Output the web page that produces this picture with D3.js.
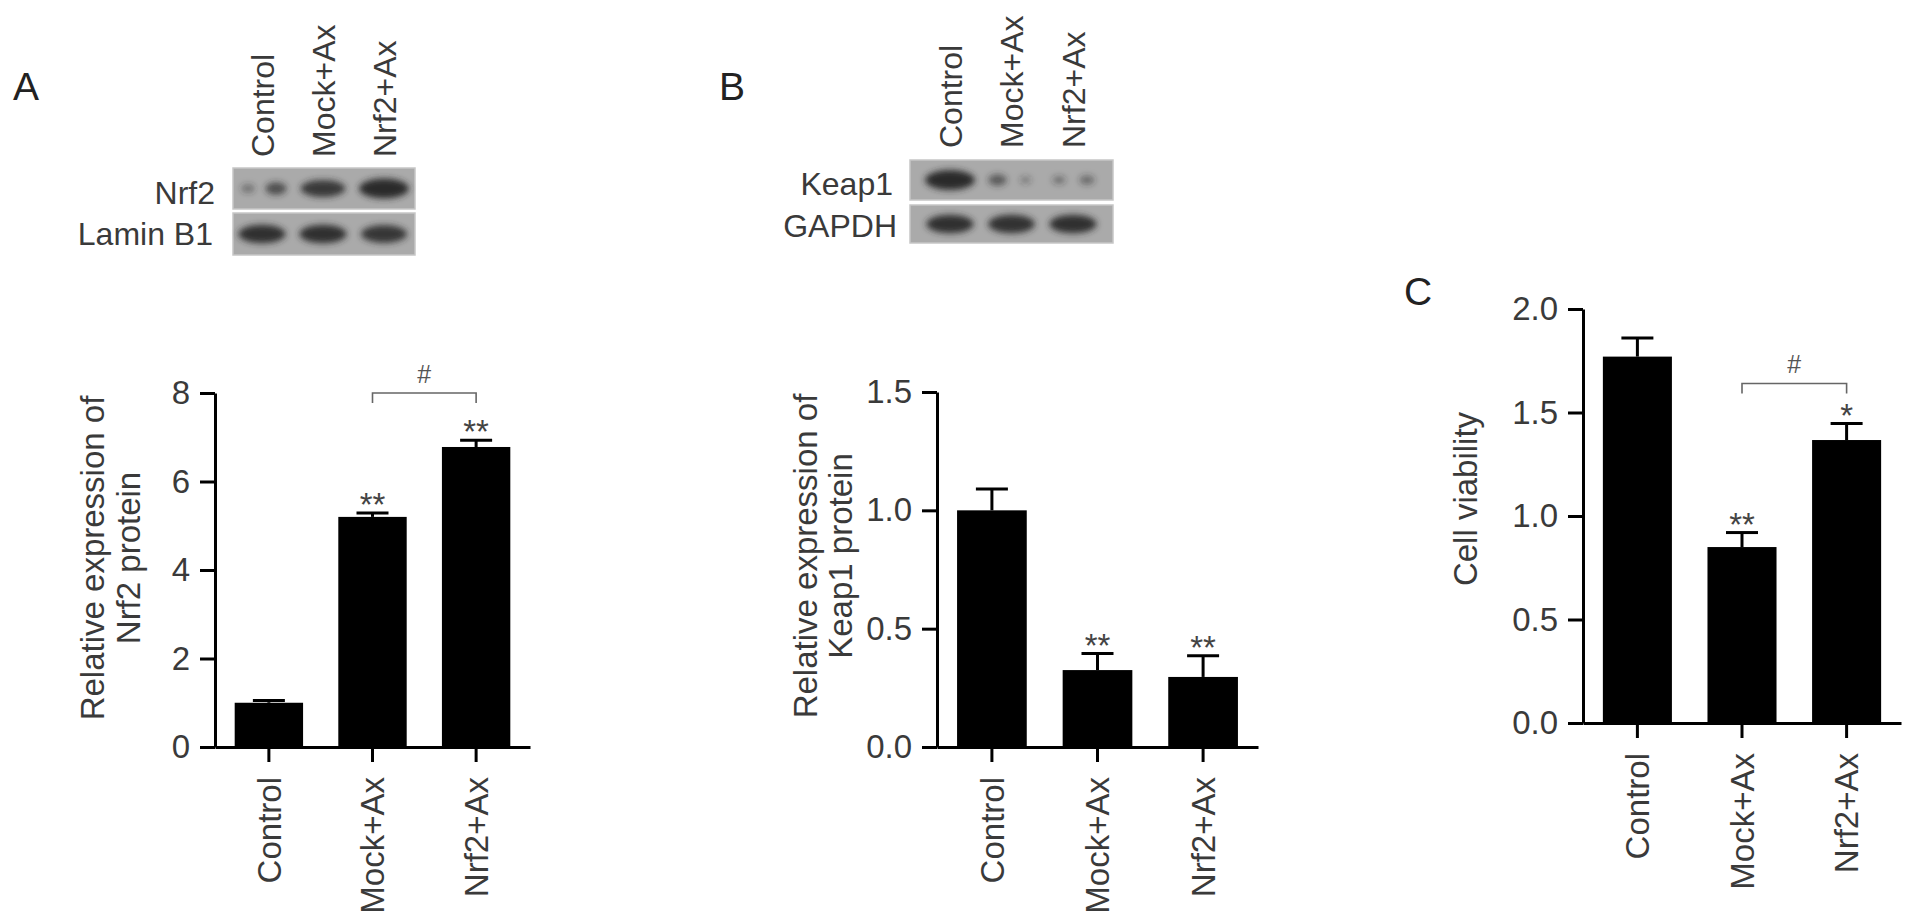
<!DOCTYPE html>
<html><head><meta charset="utf-8">
<script src="https://cdn.jsdelivr.net/npm/d3@7"></script>
<style>
body{margin:0;background:#fff;}
text{font-family:"Liberation Sans",Arial,Helvetica,sans-serif;}
</style>
</head><body>
<svg id="c" width="1913" height="924"></svg>
<script>
// ---------------- DATA ----------------
const categories = ["Control", "Mock+Ax", "Nrf2+Ax"];

const nrf2Values = [1.0, 5.2, 6.78];
const nrf2Errors = [0.05, 0.09, 0.15];
const nrf2Ticks = [0, 2, 4, 6, 8];
const nrf2Stars = ["", "**", "**"];
const nrf2Bracket = {from: "Mock+Ax", to: "Nrf2+Ax", level: 8.0, label: "#"};

const keap1Values = [1.0, 0.325, 0.296];
const keap1Errors = [0.09, 0.07, 0.09];
const keap1Ticks = [0, 0.5, 1.0, 1.5];
const keap1Stars = ["", "**", "**"];

const viabilityValues = [1.77, 0.85, 1.367];
const viabilityErrors = [0.09, 0.07, 0.08];
const viabilityTicks = [0, 0.5, 1.0, 1.5, 2.0];
const viabilityStars = ["", "**", "*"];
const viabilityBracket = {from: "Mock+Ax", to: "Nrf2+Ax", level: 1.64, label: "#"};

// western blot band intensities: two sub-bands per lane
const nrf2Blot  = [[0.25, 0.55], [0.8, 0.8], [1.0, 1.0]];
const laminBlot = [[0.9, 0.9], [0.9, 0.9], [0.85, 0.85]];
const keap1Blot = [[1.0, 1.0], [0.45, 0.15], [0.22, 0.3]];
const gapdhBlot = [[0.9, 0.9], [0.88, 0.88], [0.9, 0.9]];

// ---------------- DRAWING ----------------
const svg = d3.select("#c");
svg.append("rect").attr("width", 1913).attr("height", 924).attr("fill", "#fff");
const defs = svg.append("defs");
defs.append("filter").attr("id", "blur").attr("x", "-50%").attr("y", "-50%").attr("width", "200%").attr("height", "200%")
  .append("feGaussianBlur").attr("stdDeviation", 3);

const TXT = "#3a3a3a";

function barPanel(cfg) {
  const g = svg.append("g");
  const x = d3.scaleBand().domain(categories).range(cfg.xRange).paddingInner(0.34).paddingOuter(0.19);
  const y = d3.scaleLinear().domain(cfg.domain).range(cfg.yRange);
  const x0 = cfg.xRange[0];

  g.selectAll("rect.bar").data(cfg.values).join("rect")
    .attr("x", (d, i) => x(categories[i]))
    .attr("width", x.bandwidth())
    .attr("y", d => y(d))
    .attr("height", d => y(0) - y(d))
    .attr("fill", "#000");

  cfg.values.forEach((v, i) => {
    const cx = x(categories[i]) + x.bandwidth() / 2;
    const top = y(v + cfg.errors[i]);
    g.append("line").attr("x1", cx).attr("x2", cx).attr("y1", y(v)).attr("y2", top)
      .attr("stroke", "#000").attr("stroke-width", 3);
    g.append("line").attr("x1", cx - 16).attr("x2", cx + 16).attr("y1", top).attr("y2", top)
      .attr("stroke", "#000").attr("stroke-width", 3);
    if (cfg.stars[i]) {
      g.append("text").attr("x", cx).attr("y", top - 16).attr("dy", "0.58em")
        .attr("text-anchor", "middle").attr("font-size", 33).attr("fill", "#444")
        .text(cfg.stars[i]);
    }
  });

  const yAxis = d3.axisLeft(y).tickValues(cfg.ticks).tickSize(15).tickSizeOuter(0)
    .tickPadding(10).tickFormat(cfg.fmt);
  const ya = g.append("g").attr("transform", `translate(${x0},0)`).call(yAxis);
  ya.select(".domain").attr("stroke", "#000").attr("stroke-width", 3);
  ya.selectAll(".tick line").attr("stroke", "#000").attr("stroke-width", 3);
  ya.selectAll(".tick text").attr("font-size", 33).attr("fill", TXT)
    .attr("font-family", '"Liberation Sans",Arial,sans-serif');

  const xAxis = d3.axisBottom(x).tickSize(15).tickSizeOuter(0).tickFormat("");
  const xa = g.append("g").attr("transform", `translate(0,${y(0)})`).call(xAxis);
  xa.select(".domain").attr("stroke", "#000").attr("stroke-width", 3);
  xa.selectAll(".tick line").attr("stroke", "#000").attr("stroke-width", 3);

  categories.forEach(c => {
    const cx = x(c) + x.bandwidth() / 2;
    g.append("text")
      .attr("transform", `translate(${cx},${y(0) + 30}) rotate(-90)`)
      .attr("dy", "0.36em").attr("text-anchor", "end")
      .attr("font-size", 33).attr("fill", TXT).text(c);
  });

  cfg.title.forEach((t, k) => {
    g.append("text")
      .attr("transform", `translate(${cfg.titleX[k]},${cfg.titleY}) rotate(-90)`)
      .attr("dy", "0.36em").attr("text-anchor", "middle")
      .attr("font-size", 33).attr("fill", TXT).text(t);
  });

  if (cfg.bracket) {
    const b = cfg.bracket;
    const xa1 = x(b.from) + x.bandwidth() / 2;
    const xa2 = x(b.to) + x.bandwidth() / 2;
    const by = y(b.level);
    g.append("path").attr("d", `M${xa1},${by + 10}V${by}H${xa2}V${by + 10}`)
      .attr("fill", "none").attr("stroke", "#666").attr("stroke-width", 1.6);
    g.append("text").attr("x", (xa1 + xa2) / 2).attr("y", by - 19).attr("dy", "0.35em")
      .attr("text-anchor", "middle").attr("font-size", 25).attr("fill", "#555").text(b.label);
  }
}

barPanel({
  values: nrf2Values, errors: nrf2Errors, ticks: nrf2Ticks, stars: nrf2Stars,
  domain: [0, 8], xRange: [215, 530], yRange: [747, 393], fmt: d3.format("d"),
  title: ["Relative expression of", "Nrf2 protein"], titleX: [92, 128], titleY: 558,
  bracket: nrf2Bracket
});
barPanel({
  values: keap1Values, errors: keap1Errors, ticks: keap1Ticks, stars: keap1Stars,
  domain: [0, 1.5], xRange: [937, 1258], yRange: [747, 392], fmt: d3.format(".1f"),
  title: ["Relative expression of", "Keap1 protein"], titleX: [805, 840], titleY: 556
});
barPanel({
  values: viabilityValues, errors: viabilityErrors, ticks: viabilityTicks, stars: viabilityStars,
  domain: [0, 2], xRange: [1583, 1901], yRange: [723, 309], fmt: d3.format(".1f"),
  title: ["Cell viability"], titleX: [1465], titleY: 499,
  bracket: viabilityBracket
});

// ---------------- BLOTS ----------------
function blot(cfg) {
  const g = svg.append("g");
  const lane = d3.scalePoint().domain(categories).range(cfg.laneRange);
  cfg.rows.forEach((row, r) => {
    g.append("rect").attr("x", cfg.x).attr("y", row.y).attr("width", cfg.w).attr("height", row.h)
      .attr("fill", "#aaaaaa").attr("stroke", "#c6c6c6").attr("stroke-width", 1.5);
    const cy = row.y + row.h / 2;
    const bands = g.append("g").attr("filter", "url(#blur)");
    row.data.forEach((pair, i) => {
      const same = Math.abs(pair[0] - pair[1]) < 0.05;
      if (same) {
        const t = pair[0];
        bands.append("ellipse")
          .attr("cx", lane(categories[i]))
          .attr("cy", cy)
          .attr("rx", 12 + 13 * t)
          .attr("ry", 3 + 7 * t)
          .attr("fill", "#2a2a2a")
          .attr("opacity", Math.min(1, 0.2 + 0.85 * t));
      } else {
        pair.forEach((t, j) => {
          bands.append("ellipse")
            .attr("cx", lane(categories[i]) + (j - 0.5) * 28)
            .attr("cy", cy)
            .attr("rx", 4 + 12 * t)
            .attr("ry", 2.5 + 7 * t)
            .attr("fill", "#2a2a2a")
            .attr("opacity", Math.min(1, 0.25 + 0.85 * t));
        });
      }
    });
    g.append("text").attr("x", row.labelX).attr("y", row.labelY).attr("text-anchor", "end")
      .attr("font-size", 32).attr("fill", TXT).text(row.label);
  });
  categories.forEach(c => {
    g.append("text")
      .attr("transform", `translate(${lane(c)},${cfg.colY}) rotate(-90)`)
      .attr("dy", "0.36em").attr("text-anchor", "start")
      .attr("font-size", 32).attr("fill", TXT).text(c);
  });
}

blot({
  x: 233, w: 182, laneRange: [262, 384], colY: 157,
  rows: [
    {y: 168, h: 41, data: nrf2Blot, label: "Nrf2", labelX: 215, labelY: 204},
    {y: 213, h: 42, data: laminBlot, label: "Lamin B1", labelX: 213, labelY: 245}
  ]
});
blot({
  x: 910, w: 203, laneRange: [950, 1073], colY: 148,
  rows: [
    {y: 160, h: 40, data: keap1Blot, label: "Keap1", labelX: 893, labelY: 195},
    {y: 205, h: 38, data: gapdhBlot, label: "GAPDH", labelX: 897, labelY: 237}
  ]
});

[["A", 13, 100], ["B", 719, 100], ["C", 1404, 305]].forEach(([t, px, py]) => {
  svg.append("text").attr("x", px).attr("y", py).attr("font-size", 39).attr("fill", "#222").text(t);
});
</script>
</body></html>
